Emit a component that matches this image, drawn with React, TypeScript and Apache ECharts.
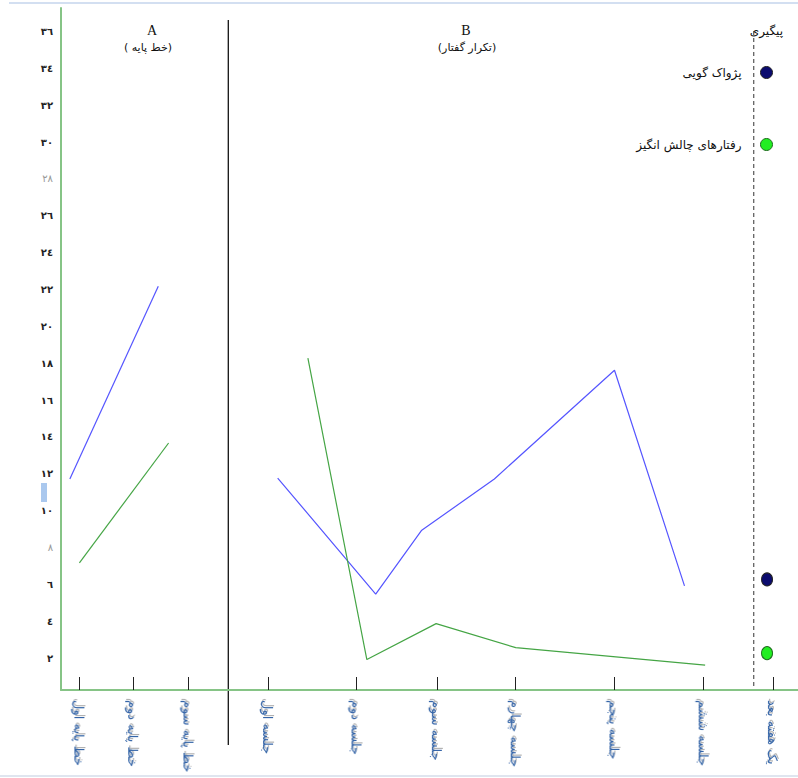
import React, { useEffect, useRef } from 'react';
import * as echarts from 'echarts';

// Category labels along the session axis and their positions on it
const xLabels = ['خط پایه اول', 'خط پایه دوم', 'خط پایه سوم', 'جلسه اول', 'جلسه دوم', 'جلسه سوم', 'جلسه چهارم', 'جلسه پنجم', 'جلسه ششم', 'یک هفته بعد'];
const xLabelPos = [2.5, 9.8, 17.3, 28.1, 40.1, 51.0, 61.7, 75.1, 87.2, 96.6];

// Phase boundaries (on the same session axis)
const phaseDividerX = 22.7;
const followUpDividerX = 94.0;

// Echolalia (پژواک گویی)
const echoBaseline = [[1.2, 11.45], [13.2, 21.9]];
const echoTreatment = [[29.4, 11.5], [42.7, 5.2], [48.9, 8.65], [58.8, 11.45], [75.1, 17.35], [84.6, 5.65]];
const echoFollowUp = [[95.8, 6.0]];

// Challenging behaviours (رفتارهای چالش انگیز)
const chalBaseline = [[2.5, 6.9], [14.6, 13.4]];
const chalTreatment = [[33.5, 18.0], [41.5, 1.65], [50.9, 3.6], [61.7, 2.3], [87.4, 1.35]];
const chalFollowUp = [[95.8, 2.0]];

const seriesNames = ['پژواک گویی', 'رفتارهای چالش انگیز'];
const phaseTitles = ['A', 'B'];
const phaseSubtitles = ['( خط پایه)', '(تکرار گفتار)'];
const followUpTitle = 'پیگیری';

const toArabicDigits = (v: number) => String(v).replace(/\d/g, (d) => '٠١٢٣٤٥٦٧٨٩'[+d]);

export default function App() {
  const ref = useRef<HTMLDivElement>(null);
  useEffect(() => {
    if (!ref.current) return;
    const chart = echarts.init(ref.current, null, { renderer: 'svg' });
    const blue = '#5555ff';
    const green = '#45a545';
    chart.setOption({
      animation: false,
      grid: { left: 61, right: 0, top: 8, bottom: 88 },
      xAxis: {
        type: 'value',
        min: 0,
        max: 100,
        splitLine: { show: false },
        axisLine: { lineStyle: { color: '#86c486', width: 2 } },
        axisTick: { show: true, inside: true, length: 13, customValues: xLabelPos, lineStyle: { color: '#222', width: 1 } },
        axisLabel: {
          customValues: xLabelPos,
          rotate: -90,
          margin: 10,
          fontFamily: 'DejaVu Sans',
          fontSize: 13,
          color: '#3565a8',
          textShadowColor: 'rgba(0,0,0,0.3)',
          textShadowOffsetX: 2,
          textShadowOffsetY: 1,
          textShadowBlur: 1,
          formatter: (v: number) => {
            const i = xLabelPos.indexOf(v);
            return i >= 0 ? xLabels[i] : '';
          },
        },
      },
      yAxis: {
        type: 'value',
        min: 0,
        max: 37,
        interval: 2,
        splitLine: { show: false },
        axisTick: { show: false },
        axisLine: { show: true, lineStyle: { color: '#86c486', width: 2 } },
        axisLabel: {
          margin: 8,
          fontFamily: 'DejaVu Sans',
          fontSize: 10,
          fontWeight: 'bold',
          color: '#222',
          padding: [10, 0, 0, 0],
          formatter: (v: number) => {
            if (v === 0 || v % 2 !== 0) return '';
            if (v === 28 || v === 8) return '{g|' + toArabicDigits(v) + '}';
            return toArabicDigits(v);
          },
          rich: { g: { color: '#999', fontWeight: 'normal', fontSize: 10, fontFamily: 'DejaVu Sans' } },
        },
      },
      legend: {
        orient: 'vertical',
        right: 25,
        top: 66,
        padding: 0,
        itemGap: 59,
        itemWidth: 12,
        itemHeight: 12,
        align: 'right',
        selectedMode: false,
        textStyle: { fontSize: 12, color: '#111', fontFamily: 'DejaVu Sans', padding: [0, 14, 0, 0] },
        data: [
          { name: seriesNames[0], icon: 'circle', itemStyle: { color: '#0b0b6e', borderColor: '#222', borderWidth: 1 } },
          { name: seriesNames[1], icon: 'circle', itemStyle: { color: '#22ee22', borderColor: '#1d6b1d', borderWidth: 1 } },
        ],
      },
      series: [
        { name: seriesNames[0], type: 'line', data: echoBaseline, symbol: 'none', lineStyle: { color: blue, width: 1.2 } },
        { name: seriesNames[0], type: 'line', data: echoTreatment, symbol: 'none', lineStyle: { color: blue, width: 1.2 } },
        { name: seriesNames[0], type: 'scatter', data: echoFollowUp, symbolSize: [11, 13], itemStyle: { color: '#0b0b6e', borderColor: '#222', borderWidth: 1, opacity: 1 } },
        { name: seriesNames[1], type: 'line', data: chalBaseline, symbol: 'none', lineStyle: { color: green, width: 1.2 } },
        { name: seriesNames[1], type: 'line', data: chalTreatment, symbol: 'none', lineStyle: { color: green, width: 1.2 } },
        { name: seriesNames[1], type: 'scatter', data: chalFollowUp, symbolSize: [11, 13], itemStyle: { color: '#22ee22', borderColor: '#1d6b1d', borderWidth: 1, opacity: 1 } },
      ],
    });

    const dx = chart.convertToPixel({ xAxisIndex: 0 }, phaseDividerX) as number;
    const fx = chart.convertToPixel({ xAxisIndex: 0 }, followUpDividerX) as number;
    const axisBottom = chart.convertToPixel({ yAxisIndex: 0 }, 0) as number;
    chart.setOption({
      graphic: [
        { type: 'line', shape: { x1: 9, y1: 3, x2: 798, y2: 3 }, style: { stroke: '#c5d4ec', lineWidth: 1.5 } },
        { type: 'line', shape: { x1: 0, y1: 776, x2: 798, y2: 776 }, style: { stroke: '#d5dcea', lineWidth: 1.5 } },
        { type: 'rect', shape: { x: 41, y: 483, width: 6, height: 19 }, style: { fill: '#aac8ee' } },
        { type: 'line', shape: { x1: dx, y1: 20, x2: dx, y2: 745 }, style: { stroke: '#111', lineWidth: 1.3 } },
        { type: 'line', shape: { x1: fx, y1: 31, x2: fx, y2: axisBottom }, style: { stroke: '#333', lineWidth: 1, lineDash: [4, 3] } },
        { type: 'text', x: 152, y: 30, style: { text: phaseTitles[0], font: '14px "Liberation Serif"', fill: '#111', align: 'center', verticalAlign: 'middle' } },
        { type: 'text', x: 148, y: 47, style: { text: phaseSubtitles[0], font: '11px "DejaVu Sans"', fill: '#111', align: 'center', verticalAlign: 'middle' } },
        { type: 'text', x: 466, y: 30, style: { text: phaseTitles[1], font: '14px "Liberation Serif"', fill: '#111', align: 'center', verticalAlign: 'middle' } },
        { type: 'text', x: 467, y: 47, style: { text: phaseSubtitles[1], font: '11px "DejaVu Sans"', fill: '#111', align: 'center', verticalAlign: 'middle' } },
        { type: 'text', x: 783, y: 31, style: { text: followUpTitle, font: '12px "DejaVu Sans"', fill: '#111', align: 'right', verticalAlign: 'middle' } },
      ],
    });
    return () => chart.dispose();
  }, []);
  return <div ref={ref} style={{ position: 'fixed', left: 0, top: 0, width: 798, height: 778, background: '#fff' }} />;
}
